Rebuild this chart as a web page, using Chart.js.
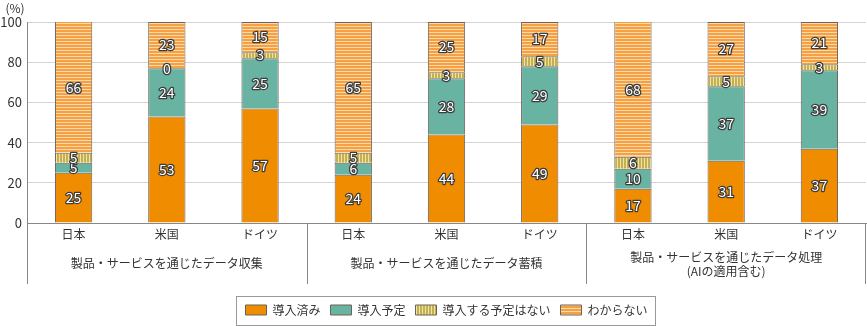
<!DOCTYPE html>
<html><head><meta charset="utf-8">
<script src="https://cdn.jsdelivr.net/npm/chart.js@4"></script>
<style>html,body{margin:0;padding:0;background:#fff}#wrap{width:867px;height:326px;position:relative}</style>
</head><body><div id="wrap"><canvas id="c"></canvas></div>
<script>
const categories = ['日本','米国','ドイツ','日本','米国','ドイツ','日本','米国','ドイツ'];
const groupLabels = [['製品・サービスを通じたデータ収集'],['製品・サービスを通じたデータ蓄積'],['製品・サービスを通じたデータ処理','(AIの適用含む)']];
const seriesNames = ['導入済み','導入予定','導入する予定はない','わからない'];
const implemented = [25,53,57,24,44,49,17,31,37];
const planned = [5,24,25,6,28,29,10,37,39];
const notPlanned = [5,0,3,5,3,5,6,5,3];
const unknown = [66,23,15,65,25,17,68,27,21];
const yTicks = [0,20,40,60,80,100];
const unitLabel = '(%)';

const FONT = '"Noto Sans CJK JP", "Noto Sans", sans-serif';
const TXT = '#333';

function stripes(dir, c1, c2, w1, w2){
  const n = w1 + w2;
  const cv = document.createElement('canvas');
  cv.width = dir === 'h' ? 4 : n; cv.height = dir === 'h' ? n : 4;
  const g = cv.getContext('2d');
  g.fillStyle = c1; g.fillRect(0,0,cv.width,cv.height);
  g.fillStyle = c2;
  if (dir === 'h') g.fillRect(0,w1,cv.width,w2); else g.fillRect(w1,0,w2,cv.height);
  return g.createPattern(cv,'repeat');
}
const patVert = stripes('v', '#c4b050', '#efe4a6', 2, 1);
const patHorz = stripes('h', '#f5a042', '#fdd8a8', 2, 1);

const valueLabels = {
  id: 'valueLabels',
  afterDatasetsDraw(chart){
    const ctx = chart.ctx; const top = chart.chartArea.top;
    ctx.save();
    ctx.font = '14px ' + FONT; ctx.textAlign = 'center'; ctx.textBaseline = 'middle';
    ctx.lineJoin = 'round';
    chart.data.datasets.forEach((ds,i)=>{
      const meta = chart.getDatasetMeta(i);
      meta.data.forEach((el,j)=>{
        const y = (Math.max(el.y, top) + el.base) / 2;
        const t = String(ds.data[j]);
        ctx.lineWidth = 2.5; ctx.strokeStyle = '#3c3c3c'; ctx.strokeText(t, el.x, y);
        ctx.fillStyle = '#fff'; ctx.fillText(t, el.x, y);
      });
    });
    ctx.restore();
  }
};

const decorations = {
  id: 'decorations',
  afterDraw(chart){
    const ctx = chart.ctx; const ca = chart.chartArea; const xs = chart.scales.x;
    const lineBottom = ca.bottom + 61;
    ctx.save();
    ctx.fillStyle = TXT; ctx.font = '12px ' + FONT; ctx.textAlign = 'center'; ctx.textBaseline = 'middle';
    ctx.fillText(unitLabel, 15, 8);
    ctx.strokeStyle = '#888'; ctx.lineWidth = 1;
    const sepX = [ca.left];
    for (let g = 1; g < groupLabels.length; g++) {
      sepX.push((xs.getPixelForValue(3*g-1) + xs.getPixelForValue(3*g)) / 2);
    }
    sepX.push(ca.right);
    sepX.forEach(x=>{
      const px = Math.round(x) + 0.5 - (x >= ca.right ? 1 : 0);
      ctx.beginPath(); ctx.moveTo(px, ca.bottom); ctx.lineTo(px, lineBottom); ctx.stroke();
    });
    groupLabels.forEach((lines,g)=>{
      const cx = xs.getPixelForValue(3*g+1);
      if (lines.length === 1) ctx.fillText(lines[0], cx, ca.bottom + 40);
      else lines.forEach((l,k)=> ctx.fillText(l, cx, ca.bottom + 34 + k*14));
    });
    const hb = chart.legend && chart.legend.legendHitBoxes;
    if (hb && hb.length) {
      let minX = Infinity, maxX = -Infinity, cy = 0;
      hb.forEach(b=>{ minX = Math.min(minX, b.left); maxX = Math.max(maxX, b.left + b.width); cy = b.top + b.height/2; });
      ctx.strokeStyle = '#999';
      ctx.strokeRect(Math.round(minX - 9) + 0.5, Math.round(cy - 14.5) + 0.5, Math.round(maxX - minX + 17), 29);
    }
    ctx.restore();
  }
};

const datasets = [
  {label: seriesNames[0], data: implemented, backgroundColor: '#f08c00'},
  {label: seriesNames[1], data: planned, backgroundColor: '#68b3a2'},
  {label: seriesNames[2], data: notPlanned, backgroundColor: patVert},
  {label: seriesNames[3], data: unknown, backgroundColor: patHorz}
].map(d=>Object.assign(d, {borderColor: '#6e6259', borderWidth: 1, barPercentage: 0.4, categoryPercentage: 1}));

new Chart(document.getElementById('c'), {
  type: 'bar',
  data: {labels: categories, datasets},
  plugins: [valueLabels, decorations],
  options: {
    responsive: true, maintainAspectRatio: false, animation: false,
    layout: {padding: {top: 22, left: 0, right: 1, bottom: 0}},
    plugins: {
      tooltip: {enabled: false},
      legend: {
        position: 'bottom', fullSize: false,
        labels: {font: {size: 12, family: FONT}, color: TXT, boxWidth: 21, boxHeight: 10, padding: 10}
      }
    },
    scales: {
      x: {
        stacked: true,
        grid: {display: false, drawTicks: false},
        border: {display: true, color: '#888'},
        ticks: {font: {size: 12, family: FONT}, color: TXT, padding: 4, maxRotation: 0, autoSkip: false},
        afterFit(s){ s.height = 71; }
      },
      y: {
        stacked: true, min: 0, max: 100,
        afterBuildTicks(s){ s.ticks = yTicks.map(v=>({value: v})); },
        grid: {color: '#d4d4d4', drawTicks: false},
        border: {display: true, color: '#888'},
        ticks: {font: {size: 13, family: FONT}, color: TXT, padding: 5},
        afterFit(s){ s.width = 27; }
      }
    }
  }
});
</script></body></html>
